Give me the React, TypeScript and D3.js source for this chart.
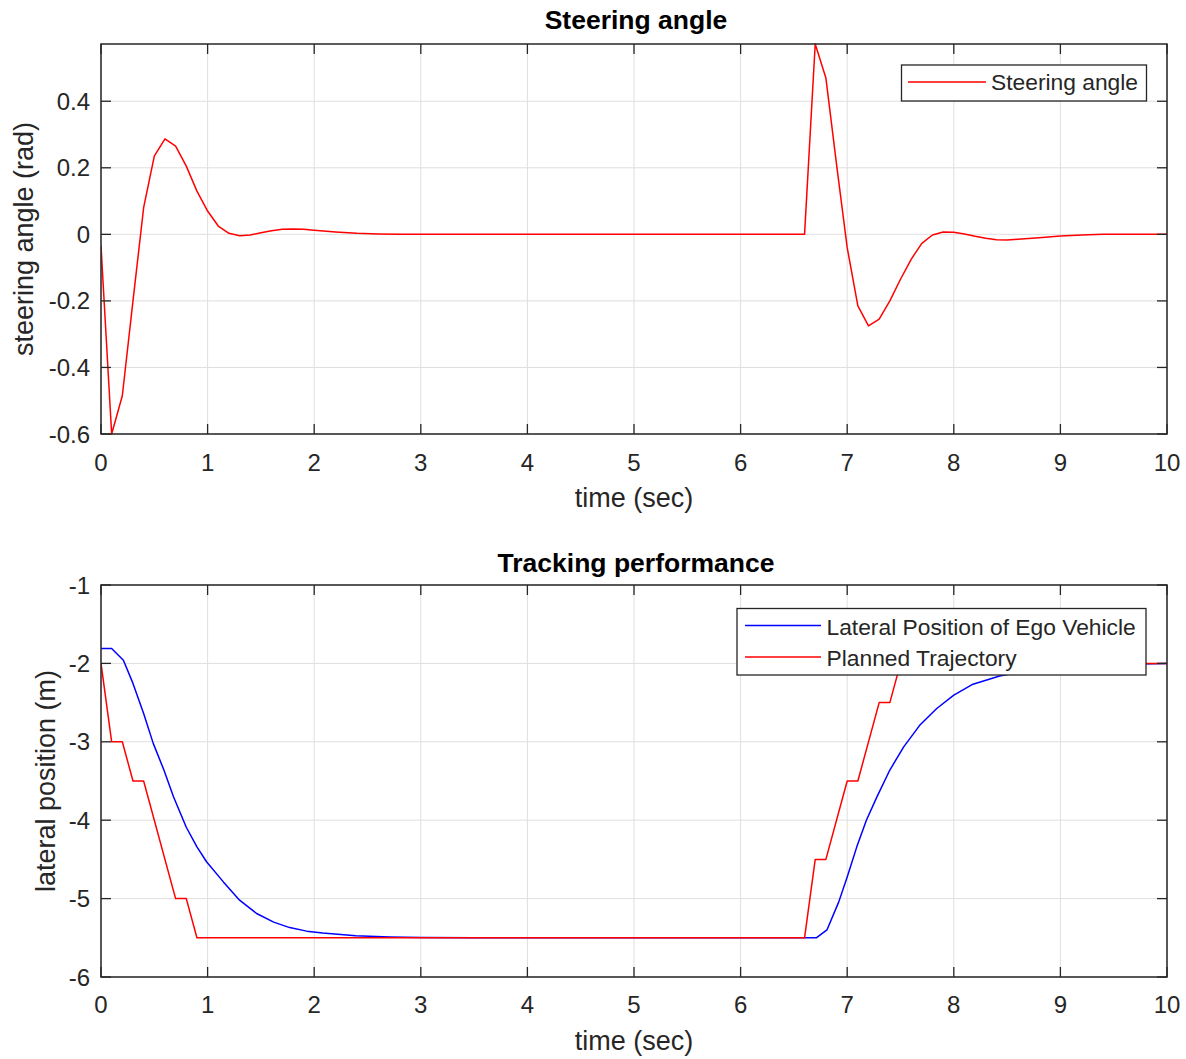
import React from "react";
import * as d3 from "d3";

// ---------- data ----------
const xTicks = [0, 1, 2, 3, 4, 5, 6, 7, 8, 9, 10];
const steerYTicks = [-0.6, -0.4, -0.2, 0, 0.2, 0.4];
const latYTicks = [-6, -5, -4, -3, -2, -1];

const steerT = [0, 0.1, 0.2, 0.3, 0.4, 0.5, 0.6, 0.7, 0.8, 0.9, 1.0, 1.1, 1.2, 1.3, 1.4, 1.5, 1.6, 1.7, 1.8, 1.9, 2.0, 2.2, 2.4, 2.6, 2.8, 6.6, 6.7, 6.8, 6.9, 7.0, 7.1, 7.2, 7.3, 7.4, 7.5, 7.6, 7.7, 7.8, 7.9, 8.0, 8.1, 8.2, 8.3, 8.4, 8.5, 8.6, 8.8, 9.0, 9.2, 9.4, 10];
const steerV = [-0.035, -0.6, -0.485, -0.2, 0.08, 0.235, 0.287, 0.265, 0.205, 0.13, 0.07, 0.025, 0.003, -0.004, -0.002, 0.005, 0.011, 0.015, 0.016, 0.015, 0.012, 0.007, 0.003, 0.001, 0, 0, 0.572, 0.47, 0.21, -0.04, -0.215, -0.275, -0.255, -0.2, -0.135, -0.075, -0.027, -0.002, 0.007, 0.006, 0.001, -0.006, -0.012, -0.016, -0.017, -0.015, -0.01, -0.005, -0.002, 0, 0];

const egoT = [0, 0.1, 0.21, 0.3, 0.4, 0.49, 0.59, 0.68, 0.8, 0.9, 0.99, 1.15, 1.3, 1.46, 1.62, 1.77, 1.93, 2.08, 2.39, 2.71, 3.0, 3.5, 6.6, 6.71, 6.81, 6.92, 7.0, 7.09, 7.18, 7.28, 7.4, 7.53, 7.68, 7.84, 8.0, 8.18, 8.43, 8.7, 9.0, 9.3, 9.6, 10];
const egoV = [-1.81, -1.81, -1.96, -2.255, -2.64, -3.02, -3.36, -3.7, -4.09, -4.34, -4.53, -4.79, -5.02, -5.19, -5.3, -5.37, -5.415, -5.44, -5.475, -5.49, -5.495, -5.5, -5.5, -5.5, -5.4, -5.045, -4.725, -4.34, -4.0, -3.7, -3.36, -3.065, -2.79, -2.575, -2.405, -2.265, -2.16, -2.09, -2.05, -2.025, -2.01, -2.0];

const planT = [0, 0.1, 0.2, 0.3, 0.4, 0.7, 0.8, 0.9, 6.6, 6.7, 6.8, 7.0, 7.1, 7.3, 7.4, 7.5, 10];
const planV = [-2, -3, -3, -3.5, -3.5, -5, -5, -5.5, -5.5, -4.5, -4.5, -3.5, -3.5, -2.5, -2.5, -2.0, -2.0];

// ---------- style ----------
const FONT = "'Liberation Sans', Arial, Helvetica, sans-serif";
const AX = "#262626";
const GRID = "#dfdfdf";
const LEFT = 101;
const RIGHT = 1167;

type Series = { t: number[]; v: number[]; color: string; name: string };

function Panel(props: {
  top: number;
  bottom: number;
  yDomain: [number, number];
  yTicks: number[];
  title: string;
  titleY: number;
  ylabel: string;
  ylabelX: number;
  xTickY: number;
  xLabelY: number;
  series: Series[];
  legend: { x0: number; x1: number; y0: number; y1: number; lineX0: number; lineX1: number; textX: number; rows: { y: number; base: number }[] };
  id: string;
}) {
  const { top, bottom, yDomain, yTicks, series, legend } = props;
  const x = d3.scaleLinear().domain([0, 10]).range([LEFT, RIGHT]);
  const y = d3.scaleLinear().domain(yDomain).range([bottom, top]);
  const tickLen = 10;
  const mkLine = (s: Series) =>
    d3
      .line<number>()
      .x((_, i) => x(s.t[i]))
      .y((d) => y(d))(s.v) || "";
  return (
    <g>
      <defs>
        <clipPath id={props.id}>
          <rect x={LEFT} y={top - 1} width={RIGHT - LEFT} height={bottom - top + 2} />
        </clipPath>
      </defs>
      <rect x={LEFT} y={top} width={RIGHT - LEFT} height={bottom - top} fill="#fff" />
      {/* grid */}
      {xTicks.map((t) => (
        <line key={"gx" + t} x1={x(t)} x2={x(t)} y1={top} y2={bottom} stroke={GRID} strokeWidth={1} />
      ))}
      {yTicks.map((t) => (
        <line key={"gy" + t} x1={LEFT} x2={RIGHT} y1={y(t)} y2={y(t)} stroke={GRID} strokeWidth={1} />
      ))}
      {/* data */}
      <g clipPath={`url(#${props.id})`}>
        {series.map((s) => (
          <path key={s.name} d={mkLine(s)} fill="none" stroke={s.color} strokeWidth={1.5} strokeLinejoin="round" />
        ))}
      </g>
      {/* ticks */}
      {xTicks.map((t) => (
        <g key={"tx" + t}>
          <line x1={x(t)} x2={x(t)} y1={bottom} y2={bottom - tickLen} stroke={AX} strokeWidth={1.3} />
          <line x1={x(t)} x2={x(t)} y1={top} y2={top + tickLen} stroke={AX} strokeWidth={1.3} />
          <text x={x(t)} y={props.xTickY} textAnchor="middle" fontSize={24} fill={AX} fontFamily={FONT}>
            {String(t)}
          </text>
        </g>
      ))}
      {yTicks.map((t) => (
        <g key={"ty" + t}>
          <line x1={LEFT} x2={LEFT + tickLen} y1={y(t)} y2={y(t)} stroke={AX} strokeWidth={1.3} />
          <line x1={RIGHT} x2={RIGHT - tickLen} y1={y(t)} y2={y(t)} stroke={AX} strokeWidth={1.3} />
          <text x={90} y={y(t) + 8.5} textAnchor="end" fontSize={24} fill={AX} fontFamily={FONT}>
            {String(t)}
          </text>
        </g>
      ))}
      {/* box */}
      <rect x={LEFT} y={top} width={RIGHT - LEFT} height={bottom - top} fill="none" stroke={AX} strokeWidth={1.5} />
      {/* labels */}
      <text x={(LEFT + RIGHT) / 2 + 2} y={props.titleY} textAnchor="middle" fontSize={26.5} fontWeight="bold" fill="#000" fontFamily={FONT}>
        {props.title}
      </text>
      <text x={(LEFT + RIGHT) / 2} y={props.xLabelY} textAnchor="middle" fontSize={27} fill={AX} fontFamily={FONT}>
        time (sec)
      </text>
      <text
        transform={`translate(${props.ylabelX},${(top + bottom) / 2}) rotate(-90)`}
        textAnchor="middle"
        fontSize={27}
        fill={AX}
        fontFamily={FONT}
      >
        {props.ylabel}
      </text>
      {/* legend */}
      <rect x={legend.x0} y={legend.y0} width={legend.x1 - legend.x0} height={legend.y1 - legend.y0} fill="#fff" stroke={AX} strokeWidth={1.3} />
      {series.map((s, i) => (
        <g key={"lg" + s.name}>
          <line x1={legend.lineX0} x2={legend.lineX1} y1={legend.rows[i].y} y2={legend.rows[i].y} stroke={s.color} strokeWidth={1.5} />
          <text x={legend.textX} y={legend.rows[i].base} fontSize={22.8} fill={AX} fontFamily={FONT}>
            {s.name}
          </text>
        </g>
      ))}
    </g>
  );
}

export default function App() {
  return (
    <svg
      width={1186}
      height={1059}
      style={{ position: "absolute", left: 0, top: 0, background: "#fff" }}
      xmlns="http://www.w3.org/2000/svg"
    >
      <rect x={0} y={0} width={1186} height={1059} fill="#fff" />
      <Panel
        id="clipTop"
        top={44}
        bottom={434}
        yDomain={[-0.6, 0.572]}
        yTicks={steerYTicks}
        title="Steering angle"
        titleY={28.5}
        ylabel="steering angle (rad)"
        ylabelX={33}
        xTickY={471}
        xLabelY={507}
        series={[{ t: steerT, v: steerV, color: "#ff0000", name: "Steering angle" }]}
        legend={{ x0: 901.5, x1: 1146.5, y0: 65, y1: 101, lineX0: 908, lineX1: 986, textX: 991, rows: [{ y: 82, base: 90 }] }}
      />
      <Panel
        id="clipBot"
        top={585}
        bottom={977}
        yDomain={[-6, -1]}
        yTicks={latYTicks}
        title="Tracking performance"
        titleY={571.5}
        ylabel="lateral position (m)"
        ylabelX={55}
        xTickY={1013}
        xLabelY={1050}
        series={[
          { t: egoT, v: egoV, color: "#0000ff", name: "Lateral Position of Ego Vehicle" },
          { t: planT, v: planV, color: "#ff0000", name: "Planned Trajectory" },
        ]}
        legend={{
          x0: 737,
          x1: 1146,
          y0: 608.5,
          y1: 675,
          lineX0: 745,
          lineX1: 821,
          textX: 826.5,
          rows: [
            { y: 625.5, base: 635 },
            { y: 657, base: 666 },
          ],
        }}
      />
    </svg>
  );
}
